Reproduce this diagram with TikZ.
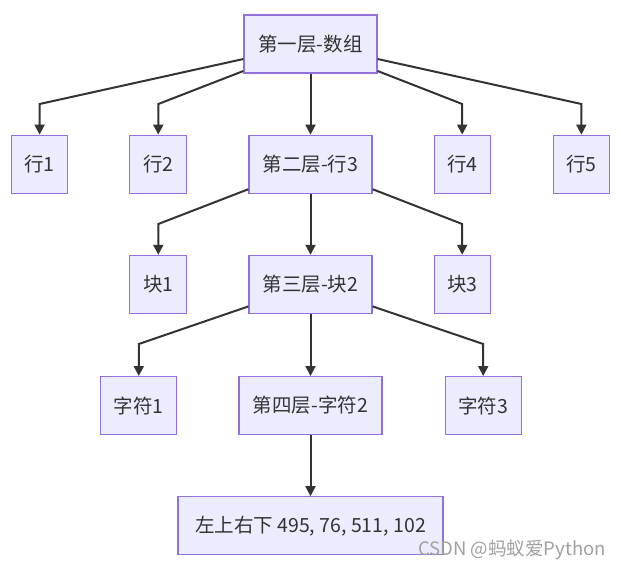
\documentclass[tikz,border=0pt]{standalone}
\usepackage{fontspec}
\newfontfamily\cjk{Noto Sans CJK SC}
\usetikzlibrary{arrows.meta,positioning}
\definecolor{boxfill}{HTML}{ECECFF}
\definecolor{boxline}{HTML}{9370DB}
\definecolor{edgeline}{HTML}{333333}
\definecolor{markgray}{HTML}{A0A0A0}

\begin{document}
\begin{tikzpicture}[
    x=1pt, y=-1pt,
    node distance=61pt,
    every node/.style={font=\cjk\fontsize{19.5}{23}\selectfont},
    box/.style={draw=boxline, line width=1.2pt, fill=boxfill, text=edgeline, align=center, minimum height=58pt, inner xsep=4pt},
    flow/.style={-{Triangle[length=10pt, width=10pt]}, line width=2pt, draw=edgeline},
    wmark/.style={font=\cjk\fontsize{18.5}{20}\selectfont, text=markgray}
]
\useasboundingbox (0,0) rectangle (621,570);
% level one
\node[box, minimum width=133pt] (array) at (310.5,44) {第一层-数组};
\node[box, minimum width=123pt, below=of array] (row3) {第二层-行3};
\node[box, minimum width=57pt, left=of row3] (row2) {行2};
\node[box, minimum width=56pt, left=of row2] (row1) {行1};
\node[box, minimum width=56pt, right=of row3] (row4) {行4};
\node[box, minimum width=56pt, right=62pt of row4] (row5) {行5};
% level two
\node[box, minimum width=123pt, below=of row3] (block2) {第三层-块2};
\node[box, minimum width=57pt, below=of row2] (block1) {块1};
\node[box, minimum width=56pt, below=of row4] (block3) {块3};
% level three
\node[box, minimum width=143pt, below=62pt of block2] (char2) {第四层-字符2};
\node[box, minimum width=76pt, left=of char2] (char1) {字符1};
\node[box, minimum width=76pt, right=62pt of char2] (char3) {字符3};
% level four
\node[box, minimum width=265pt, below=of char2] (coords) {左上右下 495, 76, 511, 102};
\node[wmark] (mark) at (512,550) {CSDN @蚂蚁爱Python};
% bend heights
\coordinate (bendA) at (0,104);
\coordinate (bendB) at (0,224);
\coordinate (bendC) at (0,344);
\draw[flow] ([yshift=-15pt]array.west) -- (row1.north |- bendA) -- (row1.north);
\draw[flow] ([yshift=-27pt]array.west) -- (row2.north |- bendA) -- (row2.north);
\draw[flow] (array.south) -- (row3.north);
\draw[flow] ([yshift=-27pt]array.east) -- (row4.north |- bendA) -- (row4.north);
\draw[flow] ([yshift=-15pt]array.east) -- (row5.north |- bendA) -- (row5.north);
\draw[flow] ([yshift=-25pt]row3.west) -- (block1.north |- bendB) -- (block1.north);
\draw[flow] (row3.south) -- (block2.north);
\draw[flow] ([yshift=-25pt]row3.east) -- (block3.north |- bendB) -- (block3.north);
\draw[flow] ([yshift=-22pt]block2.west) -- (char1.north |- bendC) -- (char1.north);
\draw[flow] (block2.south) -- (char2.north);
\draw[flow] ([yshift=-22pt]block2.east) -- (char3.north |- bendC) -- (char3.north);
\draw[flow] (char2.south) -- (coords.north);
\end{tikzpicture}
\end{document}
